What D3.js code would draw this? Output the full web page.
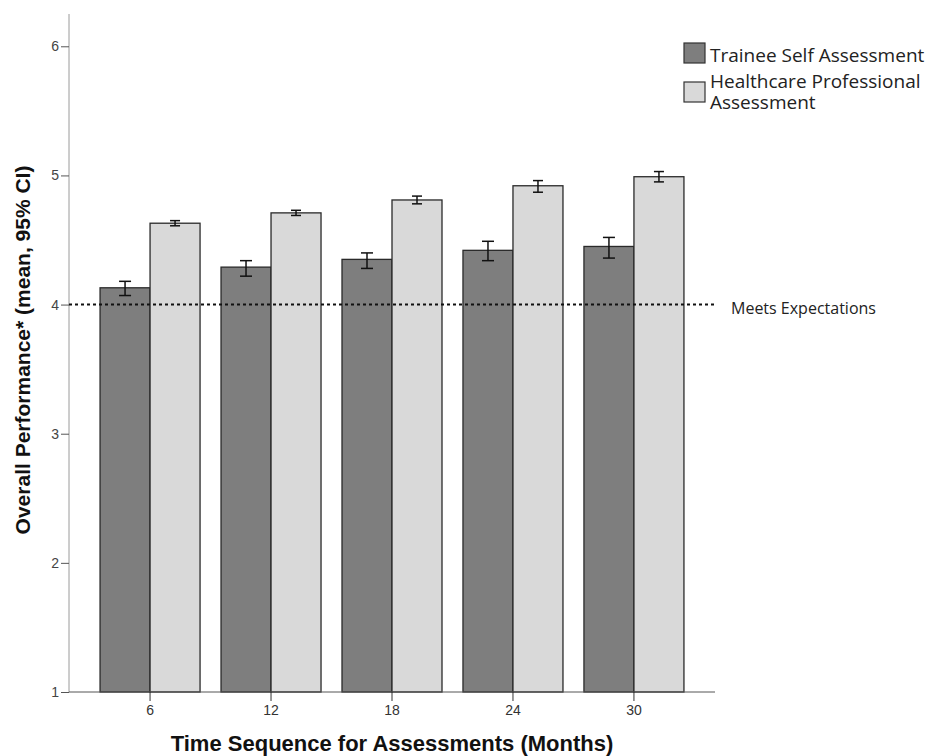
<!DOCTYPE html>
<html>
<head>
<meta charset="utf-8">
<script src="https://cdn.jsdelivr.net/npm/d3@7"></script>
<style>
  body { margin: 0; background: #fff; }
  svg { display: block; }
</style>
</head>
<body>
<div id="chart"></div>
<script>
(function () {
  'use strict';

  var months = ['6', '12', '18', '24', '30'];
  var series = ['Trainee Self Assessment', 'Healthcare Professional Assessment'];
  var traineeMean = [4.13, 4.29, 4.35, 4.42, 4.45];
  var traineeLow = [4.07, 4.22, 4.28, 4.34, 4.36];
  var traineeHigh = [4.18, 4.34, 4.40, 4.49, 4.52];
  var profMean = [4.63, 4.71, 4.81, 4.92, 4.99];
  var profLow = [4.61, 4.69, 4.78, 4.87, 4.95];
  var profHigh = [4.65, 4.73, 4.84, 4.96, 5.03];
  var yTicks = [1, 2, 3, 4, 5, 6];
  var reference = 4;

  var w = 933, h = 756;
  var fills = ['#7e7e7e', '#d9d9d9'];
  var labelFont = '"Open Sans", "DejaVu Sans", sans-serif';
  var axisFont = 'Arial, "Liberation Sans", sans-serif';

  var svg = d3.select('#chart').append('svg')
    .attr('width', w)
    .attr('height', h);

  var x = d3.scaleBand()
    .domain(months)
    .range([69, 715])
    .paddingInner(0)
    .paddingOuter(0.17);

  var y = d3.scaleLinear()
    .domain([1, 6.25])
    .range([692, 14]);

  var barW = 50;

  var flat = [];
  months.forEach(function (m, i) {
    flat.push({m: m, k: 0, v: traineeMean[i], lo: traineeLow[i], hi: traineeHigh[i]});
    flat.push({m: m, k: 1, v: profMean[i], lo: profLow[i], hi: profHigh[i]});
  });

  function cx(d) { return x(d.m) + x.bandwidth() / 2; }

  svg.selectAll('rect.bar')
    .data(flat)
    .enter()
    .append('rect')
    .attr('class', 'bar')
    .attr('x', function (d) { return cx(d) - barW + d.k * barW; })
    .attr('y', function (d) { return y(d.v); })
    .attr('width', barW)
    .attr('height', function (d) { return y(1) - y(d.v); })
    .attr('fill', function (d) { return fills[d.k]; })
    .attr('stroke', '#2a2a2a')
    .attr('stroke-width', 1.3);

  // error bars
  var eb = svg.selectAll('g.err')
    .data(flat)
    .enter()
    .append('g')
    .attr('class', 'err')
    .attr('stroke', '#111')
    .attr('stroke-width', 1.5);

  function ex(d) { return cx(d) - barW / 2 + d.k * barW; }
  var capW = [6, 5];

  eb.append('line')
    .attr('x1', ex).attr('x2', ex)
    .attr('y1', function (d) { return y(d.lo); })
    .attr('y2', function (d) { return y(d.hi); });
  eb.append('line')
    .attr('x1', function (d) { return ex(d) - capW[d.k]; })
    .attr('x2', function (d) { return ex(d) + capW[d.k]; })
    .attr('y1', function (d) { return y(d.hi); })
    .attr('y2', function (d) { return y(d.hi); });
  eb.append('line')
    .attr('x1', function (d) { return ex(d) - capW[d.k]; })
    .attr('x2', function (d) { return ex(d) + capW[d.k]; })
    .attr('y1', function (d) { return y(d.lo); })
    .attr('y2', function (d) { return y(d.lo); });

  // axes
  var yAxis = svg.append('g')
    .attr('transform', 'translate(69,0)')
    .call(d3.axisLeft(y).tickValues(yTicks).tickSize(8).tickPadding(2).tickFormat(d3.format('d')));
  yAxis.select('.domain').attr('stroke', '#9a9a9a').attr('d', 'M0,' + y(6.25) + 'V' + y(1));
  yAxis.selectAll('.tick line').attr('stroke', '#555');
  yAxis.selectAll('.tick text')
    .attr('fill', '#444')
    .style('font-family', axisFont)
    .style('font-size', '14px');

  var xAxis = svg.append('g')
    .attr('transform', 'translate(0,' + y(1) + ')')
    .call(d3.axisBottom(x).tickSize(9).tickPadding(4));
  xAxis.select('.domain').attr('stroke', '#555').attr('d', 'M69,0H715');
  xAxis.selectAll('.tick line').attr('stroke', '#333');
  xAxis.selectAll('.tick text')
    .attr('fill', '#333')
    .style('font-family', axisFont)
    .style('font-size', '14px');

  // reference line
  svg.append('line')
    .attr('x1', 69).attr('x2', 715)
    .attr('y1', y(reference)).attr('y2', y(reference))
    .attr('stroke', '#111')
    .attr('stroke-width', 2)
    .attr('stroke-dasharray', '3,3');
  svg.append('text')
    .attr('x', 731)
    .attr('y', y(reference) + 9)
    .style('font-family', labelFont)
    .style('font-size', '16px')
    .attr('fill', '#222')
    .text('Meets Expectations');

  // axis titles
  svg.append('text')
    .attr('transform', 'translate(30,350) rotate(-90)')
    .attr('text-anchor', 'middle')
    .style('font-family', axisFont)
    .style('font-weight', 'bold')
    .style('font-size', '21px')
    .attr('fill', '#111')
    .text('Overall Performance* (mean, 95% CI)');

  svg.append('text')
    .attr('x', 392)
    .attr('y', 751)
    .attr('text-anchor', 'middle')
    .style('font-family', axisFont)
    .style('font-weight', 'bold')
    .style('font-size', '22px')
    .attr('fill', '#111')
    .text('Time Sequence for Assessments (Months)');

  // legend
  var lg = svg.append('g').attr('transform', 'translate(684,43)');
  var legendLines = [['Trainee Self Assessment'], ['Healthcare Professional', 'Assessment']];
  series.forEach(function (s, i) {
    var g = lg.append('g').attr('transform', 'translate(0,' + (i * 39) + ')');
    g.append('rect')
      .attr('width', 21).attr('height', 20)
      .attr('fill', fills[i])
      .attr('stroke', '#333')
      .attr('stroke-width', 1.2);
    var t = g.append('text')
      .attr('y', i === 0 ? 19 : 6)
      .style('font-family', labelFont)
      .style('font-size', '19px')
      .attr('fill', '#222');
    legendLines[i].forEach(function (ln, j) {
      t.append('tspan').attr('x', 26).attr('dy', j === 0 ? 0 : 21).text(ln);
    });
  });
}());
</script>
</body>
</html>
